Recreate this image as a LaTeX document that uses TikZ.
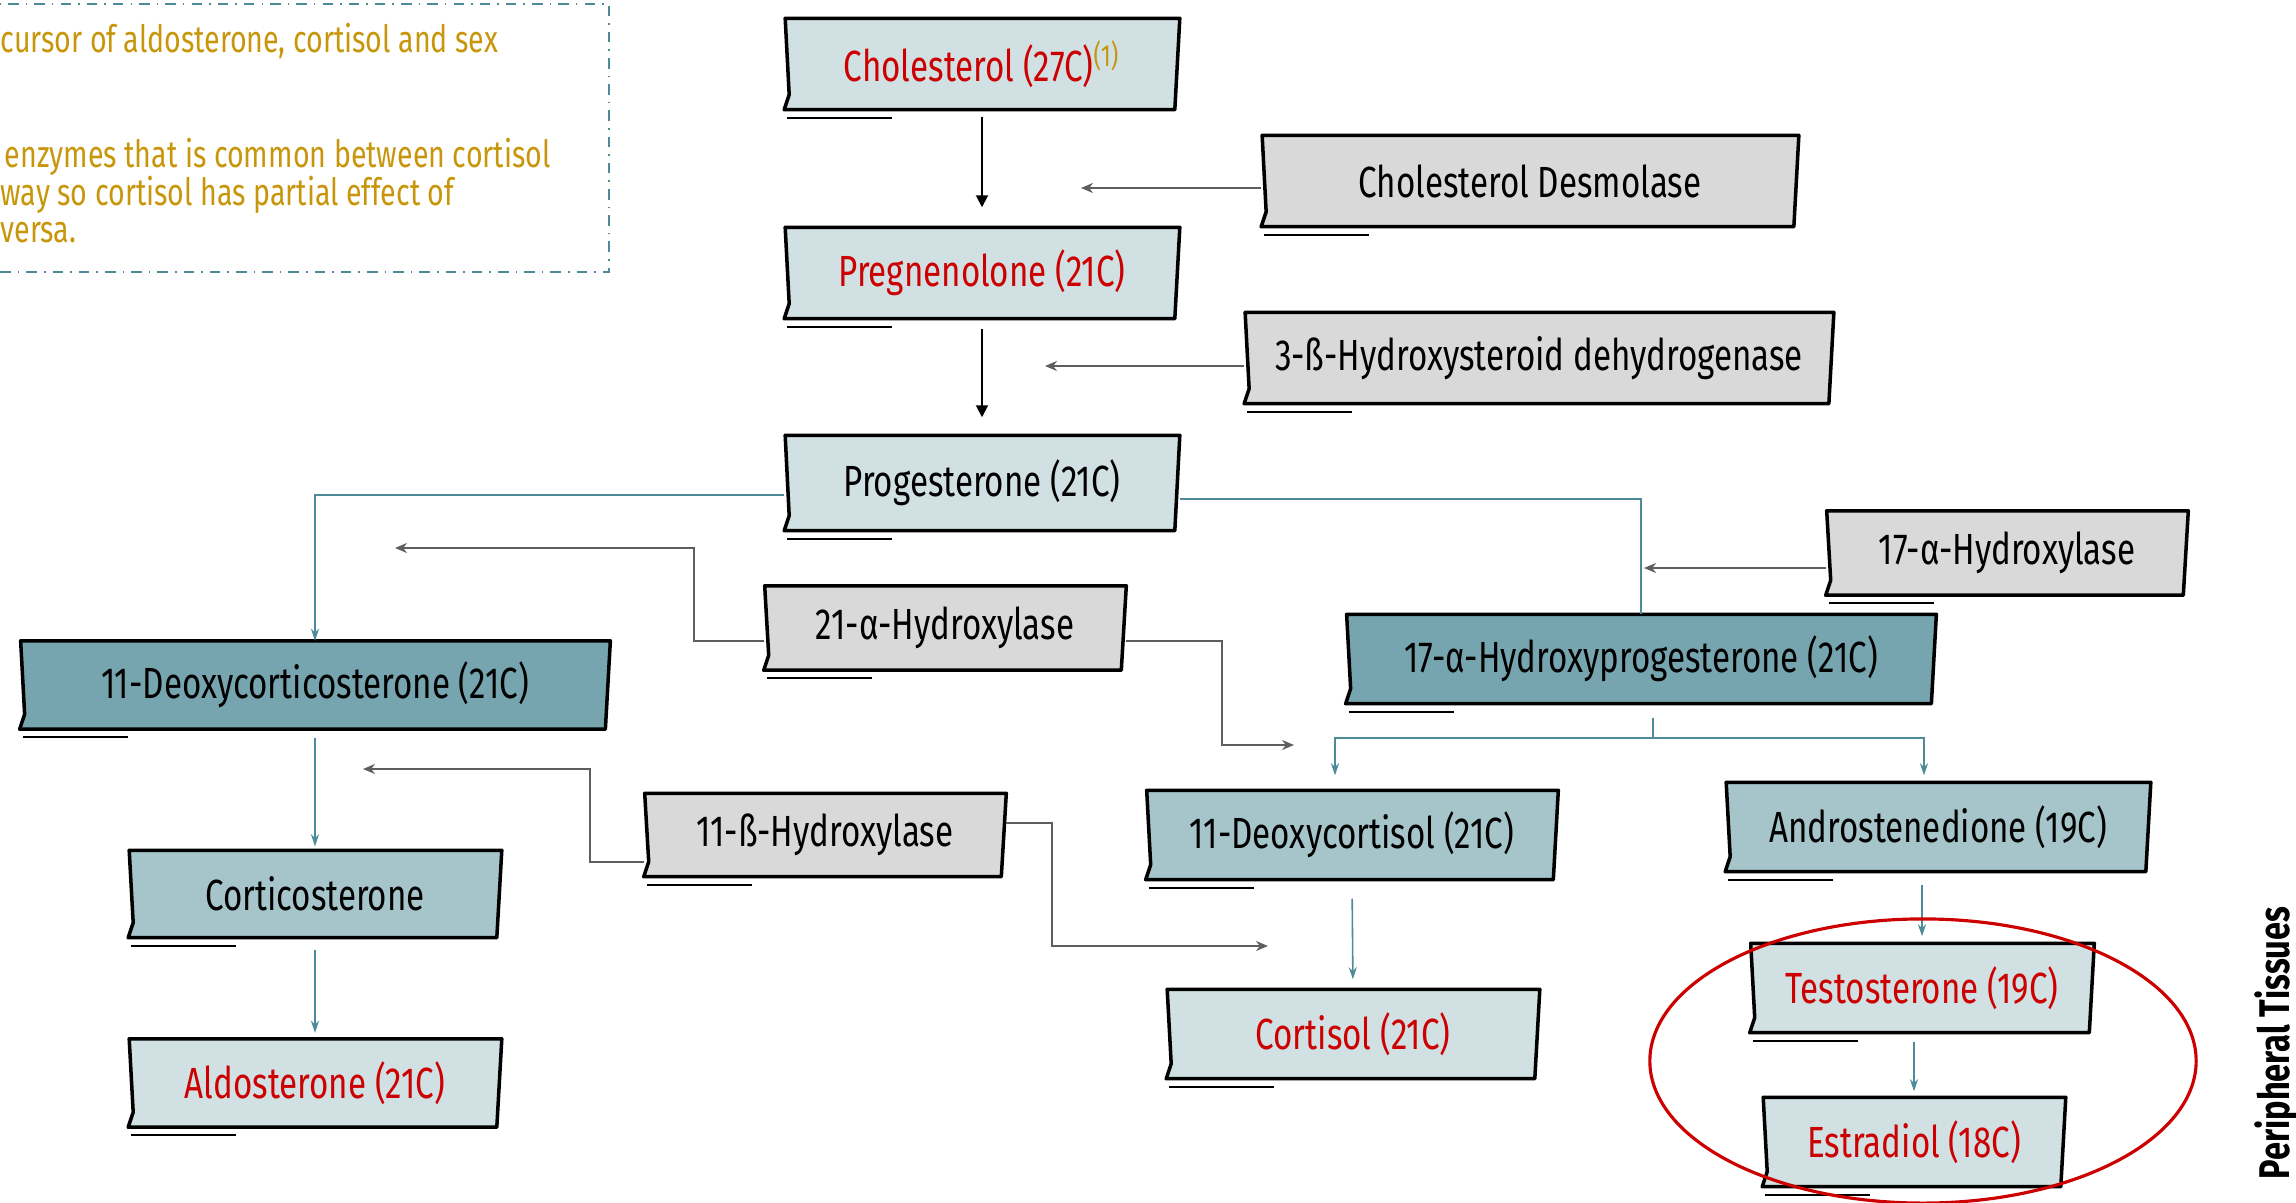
\documentclass[tikz,border=0pt]{standalone}
\usepackage{fontspec}
\setmainfont{Fira Sans}[FakeStretch=0.76]
\usetikzlibrary{arrows.meta}
\definecolor{pale}{HTML}{D1E0E3}
\definecolor{mid}{HTML}{A6C5CA}
\definecolor{deep}{HTML}{76A5B0}
\definecolor{enzgray}{HTML}{D9D9D9}
\definecolor{hotred}{HTML}{CC0000}
\definecolor{tealline}{HTML}{4E8B98}
\definecolor{feedgray}{HTML}{5E5E5E}
\definecolor{notegold}{HTML}{C8960A}
\pgfdeclarelayer{bg}
\pgfsetlayers{bg,main}
\tikzset{
  box/.style={inner sep=0pt, minimum height=0.9cm, font=\fontsize{12.4}{15}\selectfont},
  enz/.style={box, minimum height=0.83cm},
  sketch/.style={line width=1pt, line join=round},
  flow/.style={draw=tealline, line width=0.45pt, -{Stealth[length=0.12cm,width=0.08cm]}},
  feed/.style={draw=feedgray, line width=0.55pt, -{Stealth[length=0.12cm,width=0.1cm]}},
  pathway/.style={line width=0.55pt, -{Triangle[length=0.12cm,width=0.12cm]}},
  note/.style={text=notegold, anchor=west, inner sep=0pt, font=\fontsize{10.7}{13}\selectfont},
}
\begin{document}
\begin{tikzpicture}[x=0.01cm, y=-0.01cm]
  \useasboundingbox (0,0) rectangle (2296,1203);

  % note box
  \draw[tealline, line width=0.45pt, dash dot] (-20,4) rectangle (609,272);
  \node[note] (note1) at (0,41) {cursor of aldosterone, cortisol and sex};
  \node[note] (note2) at (4,157) {enzymes that is common between cortisol};
  \node[note] (note3) at (0,195) {way so cortisol has partial effect of};
  \node[note] (note4) at (0,233) {versa.};

  % steroids
  \node[box, minimum width=3.94cm, text=hotred] (chol) at (982,64) {Cholesterol (27C)\textsuperscript{\color{notegold}(1)}};
  \node[box, minimum width=3.94cm, text=hotred] (preg) at (982,273) {Pregnenolone (21C)};
  \node[box, minimum width=3.94cm, minimum height=0.94cm] (prog) at (982,483) {Progesterone (21C)};
  \node[box, minimum width=5.89cm, minimum height=0.87cm] (doc) at (315,685) {11-Deoxycorticosterone (21C)};
  \node[box, minimum width=5.89cm, minimum height=0.88cm] (ohp) at (1641,659) {17-α-Hydroxyprogesterone (21C)};
  \node[box, minimum width=3.72cm, minimum height=0.86cm] (cortico) at (315,894) {Corticosterone};
  \node[box, minimum width=3.72cm, minimum height=0.87cm, text=hotred] (aldo) at (315,1083) {Aldosterone (21C)};
  \node[box, minimum width=4.11cm, minimum height=0.88cm] (dcort) at (1352,835) {11-Deoxycortisol (21C)};
  \node[box, minimum width=3.72cm, minimum height=0.88cm, text=hotred] (cortisol) at (1353,1034) {Cortisol (21C)};
  \node[box, minimum width=4.24cm, minimum height=0.88cm] (andro) at (1938,827) {Androstenedione (19C)};
  \node[box, minimum width=3.43cm, minimum height=0.88cm, text=hotred] (testo) at (1922,988) {Testosterone (19C)};
  \node[box, minimum width=3.02cm, minimum height=0.88cm, text=hotred] (estra) at (1914,1142) {Estradiol (18C)};

  % enzymes
  \node[box, minimum width=5.36cm] (desm) at (1530,181) {Cholesterol Desmolase};
  \node[box, minimum width=5.88cm] (hsd) at (1539,358) {3-ß-Hydroxysteroid dehydrogenase};
  \node[enz, minimum width=3.61cm] (hyd17) at (2007,553) {17-α-Hydroxylase};
  \node[enz, minimum width=3.61cm] (hyd21) at (945,628) {21-α-Hydroxylase};
  \node[enz, minimum width=3.61cm, minimum height=0.82cm] (hyd11) at (825,835) {11-ß-Hydroxylase};

  \begin{pgfonlayer}{bg}
    \foreach \n/\c in {chol/pale, preg/pale, prog/pale, doc/deep, ohp/deep, cortico/mid,
        aldo/pale, dcort/mid, cortisol/pale, andro/mid, testo/pale, estra/pale,
        desm/enzgray, hsd/enzgray, hyd17/enzgray, hyd21/enzgray, hyd11/enzgray} {
      \filldraw[sketch, fill=\c] ([xshift=0.01cm]\n.north west) -- (\n.north east)
        -- ([xshift=-0.05cm]\n.south east) -- (\n.south west)
        -- ([xshift=0.05cm,yshift=0.15cm]\n.south west) -- cycle;
      \draw[line width=0.6pt] ([xshift=0.03cm,yshift=-0.08cm]\n.south west) -- ++(105,0);
    }
  \end{pgfonlayer}

  % free ends
  \coordinate (desmtip) at (1081,188);
  \coordinate (hsdtip) at (1045,366);
  \coordinate (tip17) at (1644,568);
  \coordinate (tip21a) at (395,548);
  \coordinate (tip21b) at (1294,745);
  \coordinate (tip11a) at (363,769);
  \coordinate (tip11b) at (1268,946);
  \coordinate (fork) at (1653,738);

  % main chain
  \draw[pathway, shorten <=0.07cm, shorten >=0.2cm] (chol) -- (preg);
  \draw[pathway, shorten <=0.1cm, shorten >=0.18cm] (preg) -- (prog);

  \draw[flow] ([yshift=-0.12cm]prog.west) -| (doc.north);
  \draw[flow, -] ([yshift=-0.16cm]prog.east) -| (ohp.north);
  \draw[flow, shorten <=0.09cm, shorten >=0.04cm] (doc.south) -- (cortico.north);
  \draw[flow, shorten <=0.12cm, shorten >=0.06cm] (cortico.south) -- (aldo.north);
  \draw[flow, -, shorten <=0.14cm] (ohp.south -| fork) -- (fork);
  \draw[flow, shorten >=0.15cm] (fork) -| ([xshift=-0.17cm]dcort.north);
  \draw[flow, shorten >=0.07cm] (fork) -| ([xshift=-0.14cm]andro.north);
  \draw[flow, shorten <=0.19cm, shorten >=0.1cm] (dcort.south) -- (cortisol.north);
  \draw[flow, shorten <=0.13cm, shorten >=0.07cm] (andro.south -| testo.north) -- (testo.north);
  \draw[flow, shorten <=0.09cm, shorten >=0.06cm] (testo.south -| estra.north) -- (estra.north);

  % enzyme feeds
  \draw[feed] (desm.west |- desmtip) -- (desmtip);
  \draw[feed] (hsd.west |- hsdtip) -- (hsdtip);
  \draw[feed] (hyd17.west |- tip17) -- (tip17);
  \draw[feed] ([yshift=-0.13cm]hyd21.west) -- ++(-70,0) |- (tip21a);
  \draw[feed] ([yshift=-0.13cm]hyd21.east) -- ++(96,0) |- (tip21b);
  \draw[feed] ([yshift=-0.27cm]hyd11.west) -- ++(-54,0) |- (tip11a);
  \draw[feed] ([yshift=0.12cm]hyd11.east) -- ++(46,0) |- (tip11b);

  % peripheral tissues
  \draw[hotred, line width=0.9pt] (1923,1061) ellipse [x radius=2.73cm, y radius=1.42cm];
  \node[rotate=90, inner sep=0pt, font=\bfseries\fontsize{12.2}{14}\selectfont] (tissues) at (2277,1043) {Peripheral Tissues};
\end{tikzpicture}
\end{document}
